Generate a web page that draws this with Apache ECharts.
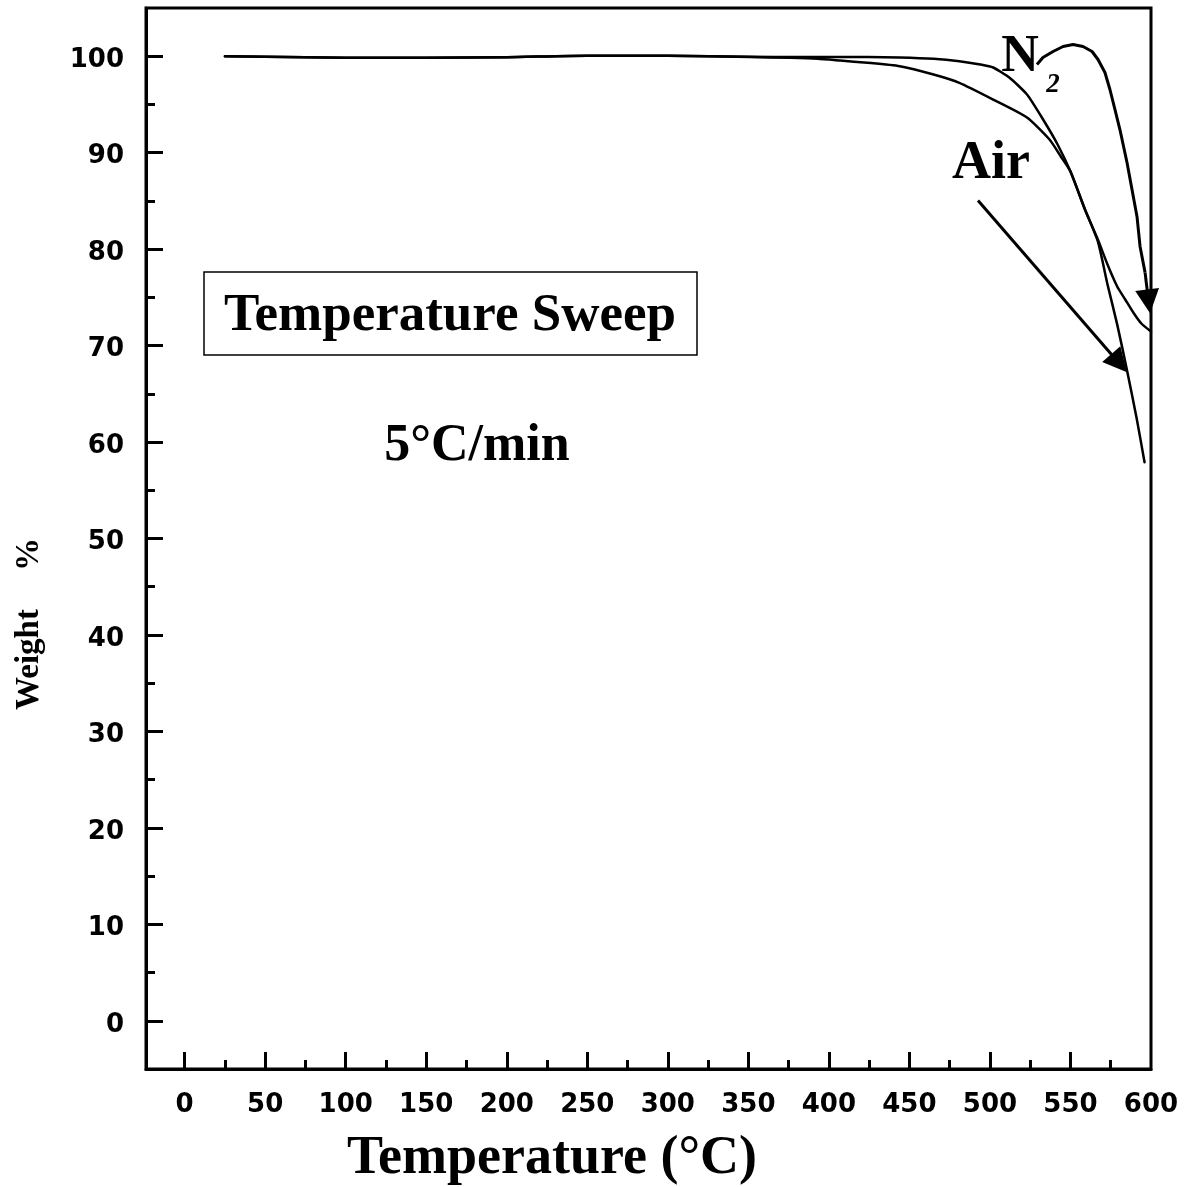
<!DOCTYPE html>
<html>
<head>
<meta charset="utf-8">
<title>Weight % vs Temperature</title>
<script src="https://cdn.jsdelivr.net/npm/echarts@6/dist/echarts.min.js"></script>
<style>
  html, body { margin: 0; padding: 0; background: #fff; }
  #chart { width: 1188px; height: 1187px; }
</style>
</head>
<body>
<div id="chart"></div>
<script>
// TGA curves, 5 °C/min temperature sweep
const tempAir = [25, 50, 100, 150, 200, 250, 300, 350, 382, 424, 444, 465, 481, 494, 502, 512, 523, 533, 542, 550, 559, 567, 573, 579, 585, 591, 596];
const weightAir = [100.0, 99.95, 99.85, 99.85, 99.9, 100.05, 100.05, 99.95, 99.92, 99.92, 99.87, 99.73, 99.48, 99.14, 98.83, 97.79, 96.03, 93.44, 90.85, 88.05, 84.11, 80.8, 76.34, 72.2, 67.53, 62.55, 57.9];

const tempN2 = [25, 50, 100, 150, 200, 250, 300, 351, 376, 393, 407, 424, 444, 465, 481, 502, 523, 537, 544, 550, 559, 567, 573, 579, 584, 589, 594, 600];
const weightN2 = [100.0, 99.95, 99.85, 99.85, 99.9, 100.05, 100.05, 99.92, 99.83, 99.73, 99.55, 99.32, 98.96, 98.1, 97.24, 95.51, 93.65, 91.37, 89.61, 88.05, 84.11, 81.0, 78.41, 76.13, 74.78, 73.43, 72.29, 71.46];

// axis ticks and labels
const xMajor = [0, 50, 100, 150, 200, 250, 300, 350, 400, 450, 500, 550, 600];
const xMinor = [25, 75, 125, 175, 225, 275, 325, 375, 425, 475, 525, 575];
const yMajor = [0, 10, 20, 30, 40, 50, 60, 70, 80, 90, 100];
const yMinor = [5, 15, 25, 35, 45, 55, 65, 75, 85, 95];

// annotation arrows, in data coordinates (temperature, weight)
const airArrow = [[492.6, 85.05], [580.2, 68.17]];
const n2ArrowBody = [[529.2, 99.14], [532.9, 99.86], [539.2, 100.49], [545.4, 101.01], [551.6, 101.21], [557.8, 101.01], [563.4, 100.49], [567.1, 99.66], [571.4, 98.31], [574.5, 96.55], [577.6, 94.48], [580.7, 92.40], [585.1, 88.98], [588.2, 86.18], [591.3, 83.39], [593.2, 80.28], [596.3, 77.59]];
const n2ArrowHead = [[596.3, 77.59], [598.5, 74.58]];

const pairs = (xs, ys) => xs.map((x, i) => [x, ys[i]]);

const SERIF = '"Liberation Serif", "Times New Roman", serif';
const SANS = '"DejaVu Sans", sans-serif';

const chart = echarts.init(document.getElementById('chart'), null, { renderer: 'canvas' });

const tickFont = { fontFamily: SANS, fontWeight: 'bold', fontSize: 26, color: '#000' };
const axisLineStyle = { show: true, onZero: false, lineStyle: { color: '#000', width: 3 } };

chart.setOption({
  animation: false,
  backgroundColor: '#fff',
  grid: {
    left: 146, right: 37, top: 8, bottom: 118,
    show: true, borderColor: '#000', borderWidth: 3, backgroundColor: 'transparent'
  },
  xAxis: [
    {
      type: 'value', min: -24, max: 600, position: 'bottom',
      axisLine: axisLineStyle,
      axisTick: { show: true, inside: true, length: 17, lineStyle: { color: '#000', width: 3 }, customValues: xMajor.slice(0, -1) },
      axisLabel: Object.assign({ margin: 23, customValues: xMajor }, tickFont),
      splitLine: { show: false }
    },
    {
      type: 'value', min: -24, max: 600, position: 'bottom',
      axisLine: { show: false, onZero: false },
      axisTick: { show: true, inside: true, length: 9, lineStyle: { color: '#000', width: 3 }, customValues: xMinor },
      axisLabel: { show: false },
      splitLine: { show: false }
    }
  ],
  yAxis: [
    {
      type: 'value', min: -5, max: 105, position: 'left',
      axisLine: axisLineStyle,
      axisTick: { show: true, inside: true, length: 17, lineStyle: { color: '#000', width: 3 }, customValues: yMajor },
      axisLabel: Object.assign({
        margin: 22, customValues: yMajor,
        formatter: '{v|{value}}',
        rich: { v: Object.assign({ padding: [8, 0, 0, 0] }, tickFont) }
      }, tickFont),
      splitLine: { show: false }
    },
    {
      type: 'value', min: -5, max: 105, position: 'left',
      axisLine: { show: false, onZero: false },
      axisTick: { show: true, inside: true, length: 9, lineStyle: { color: '#000', width: 3 }, customValues: yMinor },
      axisLabel: { show: false },
      splitLine: { show: false }
    }
  ],
  series: [
    {
      name: 'Air', type: 'line', data: pairs(tempAir, weightAir),
      showSymbol: false, smooth: 0.2, clip: false,
      lineStyle: { color: '#000', width: 2.5, cap: 'round', join: 'round' }
    },
    {
      name: 'N2', type: 'line', data: pairs(tempN2, weightN2),
      showSymbol: false, smooth: 0.2, clip: false,
      lineStyle: { color: '#000', width: 2.5, cap: 'round', join: 'round' }
    },
    {
      name: 'Air arrow', type: 'lines', coordinateSystem: 'cartesian2d', clip: false,
      symbol: ['none', 'triangle'], symbolSize: [22, 24],
      lineStyle: { color: '#000', width: 3, curveness: 0, opacity: 1 },
      itemStyle: { color: '#000' },
      data: [{ coords: airArrow }]
    },
    {
      name: 'N2 arrow', type: 'lines', coordinateSystem: 'cartesian2d', clip: false, polyline: true,
      lineStyle: { color: '#000', width: 3, opacity: 1, join: 'round' },
      data: [{ coords: n2ArrowBody }]
    },
    {
      name: 'N2 arrow head', type: 'lines', coordinateSystem: 'cartesian2d', clip: false,
      symbol: ['none', 'triangle'], symbolSize: [22, 24],
      lineStyle: { color: '#000', width: 3, curveness: 0, opacity: 1 },
      itemStyle: { color: '#000' },
      data: [{ coords: n2ArrowHead }]
    }
  ],
  graphic: [
    {
      type: 'rect', shape: { x: 204, y: 272, width: 493, height: 83 },
      style: { fill: 'transparent', stroke: '#000', lineWidth: 1.5 }
    },
    {
      type: 'text', x: 450, y: 316,
      style: { text: 'Temperature Sweep', font: 'bold 53px ' + SERIF, fill: '#000', textAlign: 'center', textVerticalAlign: 'middle' }
    },
    {
      type: 'text', x: 477, y: 447,
      style: { text: '5°C/min', font: 'bold 52px ' + SERIF, fill: '#000', textAlign: 'center', textVerticalAlign: 'middle' }
    },
    {
      type: 'text', x: 991, y: 164,
      style: { text: 'Air', font: 'bold 54px ' + SERIF, fill: '#000', textAlign: 'center', textVerticalAlign: 'middle' }
    },
    {
      type: 'text', x: 1020, y: 58,
      style: { text: 'N', font: 'bold 52px ' + SERIF, fill: '#000', textAlign: 'center', textVerticalAlign: 'middle' }
    },
    {
      type: 'text', x: 1053, y: 85,
      style: { text: '2', font: 'italic bold 27px ' + SERIF, fill: '#000', textAlign: 'center', textVerticalAlign: 'middle' }
    },
    {
      type: 'text', x: 552, y: 1159,
      style: { text: 'Temperature (°C)', font: 'bold 54px ' + SERIF, fill: '#000', textAlign: 'center', textVerticalAlign: 'middle' }
    },
    {
      type: 'text', x: 29, y: 624, rotation: Math.PI / 2,
      style: {
        text: '{a|Weight}{b|%}', textAlign: 'center', textVerticalAlign: 'middle', fill: '#000',
        rich: {
          a: { fontFamily: SERIF, fontWeight: 'bold', fontSize: 33, color: '#000' },
          b: { fontFamily: SERIF, fontWeight: 'bold', fontSize: 33, color: '#000', padding: [0, 0, 0, 38] }
        }
      }
    }
  ]
});
</script>
</body>
</html>
